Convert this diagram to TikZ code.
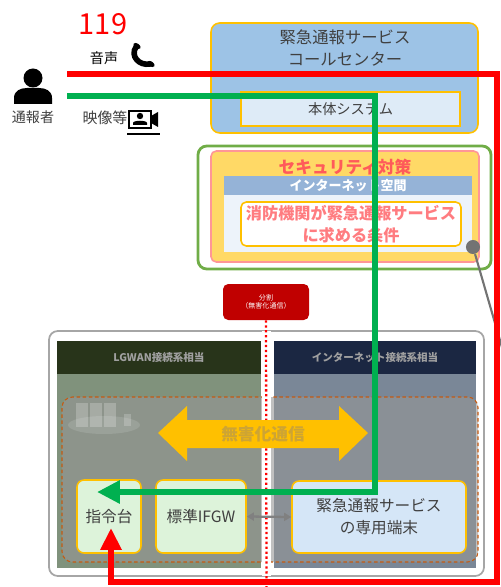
\documentclass[tikz,border=0pt]{standalone}
\usepackage{fontspec}
\setmainfont{Noto Sans CJK JP}
\usetikzlibrary{fit,arrows.meta}

\definecolor{ccblue}{RGB}{157,195,230}
\definecolor{sysblue}{RGB}{222,235,247}
\definecolor{boxgold}{RGB}{255,192,0}
\definecolor{secgreen}{RGB}{112,173,71}
\definecolor{secyellow}{RGB}{255,217,102}
\definecolor{secpink}{RGB}{255,150,150}
\definecolor{secred}{RGB}{255,90,90}
\definecolor{bandblue}{RGB}{149,179,215}
\definecolor{areablue}{RGB}{237,243,250}
\definecolor{reqpink}{RGB}{255,124,128}
\definecolor{splitred}{RGB}{192,0,0}
\definecolor{lgwandark}{RGB}{40,52,26}
\definecolor{lgwanbody}{RGB}{128,146,124}
\definecolor{inetdark}{RGB}{27,39,66}
\definecolor{inetbody}{RGB}{122,135,151}
\definecolor{zonegrey}{RGB}{150,150,150}
\definecolor{zoneline}{RGB}{197,90,17}
\definecolor{cmdgreen}{RGB}{221,243,218}
\definecolor{termblue}{RGB}{213,230,247}
\definecolor{txtgrey}{RGB}{64,64,64}
\definecolor{headgrey}{RGB}{160,160,160}
\definecolor{safetxt}{RGB}{205,164,52}
\definecolor{voicered}{RGB}{255,0,0}
\definecolor{videogreen}{RGB}{0,176,80}

\tikzset{
  area/.style={inner sep=0pt},
  goldbox/.style={area, draw=boxgold, line width=0.9pt, rounded corners=3pt},
  lbl/.style={inner sep=0pt, align=center, text=txtgrey},
  pathline/.style={line width=3.7pt},
}

\begin{document}
\begin{tikzpicture}[x=0.02cm, y=-0.02cm]
  \useasboundingbox (0,0) rectangle (500,587);

  % caller
  \node[text=voicered, font=\fontsize{16.5}{18}\selectfont, inner sep=0pt] (num) at (103,24) {119};
  \node[lbl, text=black, font=\fontsize{8}{9}\selectfont] (voice) at (104,58) {音声};
  \draw[line width=3.2pt, line cap=round] (136,47) .. controls (130,56) and (139,66) .. (150,64);
  \fill[rotate around={-35:(137,46)}] (137,46) ellipse (4 and 2.5);
  \fill[rotate around={-35:(151,64)}] (151,64) ellipse (4 and 2.5);
  \fill (33,78) circle (9.5);
  \fill (14,104) -- (14,98) .. controls (14,91) and (20,88) .. (27,88)
    -- (39,88) .. controls (46,88) and (52,91) .. (52,98) -- (52,104) -- cycle;
  \node[lbl, font=\fontsize{8}{9}\selectfont] (caller) at (33,117) {通報者};
  \node[lbl, font=\fontsize{8.5}{9}\selectfont] (video) at (105,118) {映像等};
  \draw[line width=1.4pt] (129,111) rectangle (151,128);
  \fill (140,116) circle (3.2);
  \fill (133,125) -- (133,123) .. controls (133,120) and (147,120) .. (147,123) -- (147,125) -- cycle;
  \fill (151,116) -- (158,112) -- (158,127) -- (151,123) -- cycle;
  \draw[line width=0.6pt] (127,134) -- (160,134);
  \coordinate (voiceStart) at (67,74);
  \coordinate (videoStart) at (67,96);

  % call centre
  \node[goldbox, fill=ccblue, rounded corners=5pt, fit={(211,23) (478,133)}] (callcenter) {};
  \node[lbl, font=\fontsize{9.3}{12}\selectfont] (cctitle) at (345,48) {緊急通報サービス\\コールセンター};
  \node[goldbox, fill=sysblue, rounded corners=0pt, fit={(241,92) (460,126)}] (mainsys) {};
  \node[lbl, font=\fontsize{8.1}{9}\selectfont] at (mainsys.center) {本体システム};

  % security measures
  \node[area, draw=secgreen, line width=1.6pt, fill=white, rounded corners=5pt,
    fit={(198,146) (491,269)}] (secframe) {};
  \node[area, draw=secpink, line width=0.9pt, fill=secyellow, rounded corners=3pt,
    fit={(211,151) (479,262)}] (secbox) {};
  \node[lbl, text=secred, font=\fontsize{9.5}{10}\selectfont\bfseries] (sectitle) at (345,167) {セキュリティ対策};
  \node[area, fill=bandblue, fit={(224,176) (472,195)}] (netband) {};
  \node[lbl, text=white, font=\fontsize{7.4}{8}\selectfont\bfseries] at (netband.center) {インターネット空間};
  \node[area, fill=areablue, fit={(224,195) (472,252)}] (netarea) {};
  \node[goldbox, fill=white, fit={(241,202) (461,246)}] (reqbox) {};
  \node[lbl, text=reqpink, font=\fontsize{9.2}{12.5}\selectfont\bfseries] at (reqbox.center)
    {消防機関が緊急通報サービス\\に求める条件};
  \node[circle, fill=black!55, inner sep=0pt, minimum size=8pt] (pin) at (473,247) {};
  \coordinate (offpage) at (510,375);
  \draw[black!55, line width=1.2pt] (pin) -- (offpage);

  % separation
  \node[area, fill=splitred, rounded corners=3pt, fit={(223,284) (309,320)}] (split) {};
  \node[lbl, text=white, font=\fontsize{4}{5}\selectfont] at (split.center) {分割\\（無害化通信）};

  % fire department side
  \node[area, draw=black!35, line width=1pt, fill=white, rounded corners=5pt,
    fit={(49,331) (484,576)}] (outer) {};
  \node[area, fill=lgwandark, fit={(57,341) (261,374)}] (lgwanhead) {};
  \node[lbl, text=headgrey, font=\fontsize{6}{7}\selectfont\bfseries] at (lgwanhead.center) {LGWAN接続系相当};
  \node[area, fill=lgwanbody, fit={(57,374) (261,568)}] (lgwanarea) {};
  \node[area, fill=inetdark, fit={(274,341) (476,374)}] (inethead) {};
  \node[lbl, text=headgrey, font=\fontsize{6}{7}\selectfont\bfseries] at (inethead.center) {インターネット接続系相当};
  \node[area, fill=inetbody, fit={(274,374) (476,568)}] (inetarea) {};
  \node[area, draw=zoneline, dash pattern=on 2pt off 1.5pt, line width=0.6pt,
    fill=zonegrey, fill opacity=0.6, draw opacity=1, rounded corners=6pt,
    fit={(62,397) (478,562)}] (zone) {};

  % faint servers
  \fill[white, opacity=0.12] (104,425) ellipse (36 and 9);
  \foreach \sx in {76,90,104}
    \fill[white, opacity=0.22] (\sx,403) rectangle ++(12,24);
  \fill[white, opacity=0.2] (124,414) rectangle (131,426);

  \draw[white, line width=5pt] (266.5,331) -- (266.5,576);
  \coordinate (gapEnd) at (266.5,587);
  \draw[voicered, line width=1.3pt, dash pattern=on 1.3pt off 1.5pt] (split.south) -- (gapEnd);

  % harmless communication
  \fill[boxgold] (158,433) -- (187,406) -- (187,420) -- (339,420) -- (339,406) -- (368,433)
    -- (339,461) -- (339,448) -- (187,448) -- (187,461) -- cycle;
  \node[lbl, text=safetxt, font=\fontsize{9.5}{10}\selectfont\bfseries] (safetext) at (263,434) {無害化通信};

  \node[goldbox, fill=cmdgreen, rounded corners=4pt, fit={(77,480) (141,553)}] (cmd) {};
  \node[lbl, font=\fontsize{8.9}{10}\selectfont] at (cmd.center) {指令台};
  \node[goldbox, fill=cmdgreen, rounded corners=4pt, fit={(156,480) (246,553)}] (ifgw) {};
  \node[lbl, font=\fontsize{8.9}{10}\selectfont] at (ifgw.center) {標準IFGW};
  \node[goldbox, fill=termblue, rounded corners=4pt, fit={(292,481) (466,553)}] (term) {};
  \node[lbl, font=\fontsize{8.9}{12.5}\selectfont] at (term.center) {緊急通報サービス\\の専用端末};
  \draw[black!50, line width=1.3pt, {Triangle[length=4pt,width=4.5pt]}-{Triangle[length=4pt,width=4.5pt]}]
    (ifgw.east) -- (term.west);

  % voice and video routes
  \coordinate (redCorner) at (497,582);
  \coordinate (redTip) at (111,528);
  \draw[voicered, pathline, -{Triangle[length=12.5pt,width=11.5pt]}]
    (voiceStart) -| (redCorner) -| (redTip);
  \coordinate (greenBend) at (375,492);
  \coordinate (greenTip) at (97,492);
  \draw[videogreen, pathline, -{Triangle[length=13pt,width=12.5pt]}]
    (videoStart) -| (greenBend) -- (greenTip);
\end{tikzpicture}
\end{document}
